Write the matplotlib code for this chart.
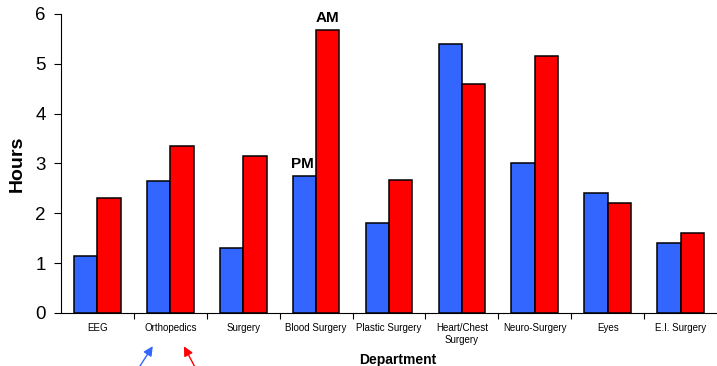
import matplotlib
matplotlib.use("Agg")
import matplotlib.pyplot as plt
import numpy as np

departments = ["EEG", "Orthopedics", "Surgery", "Blood Surgery", "Plastic Surgery",
               "Heart/Chest\nSurgery", "Neuro-Surgery", "Eyes", "E.I. Surgery"]
pm_hours = [1.15, 2.65, 1.30, 2.75, 1.80, 5.40, 3.00, 2.40, 1.40]
am_hours = [2.30, 3.35, 3.15, 5.68, 2.67, 4.60, 5.15, 2.20, 1.60]

plt.rcParams["font.family"] = ["Liberation Sans", "DejaVu Sans"]

BLUE = "#3366FF"
RED = "#FF0000"
width = 0.32

fig = plt.figure(figsize=(7.17, 3.66), dpi=100)
ax = fig.add_axes([0.085, 0.145, 0.915, 0.817])

x = np.arange(len(departments))
pm_bars = ax.bar(x - width / 2, pm_hours, width, color=BLUE, edgecolor="black", linewidth=1.1, zorder=3)
am_bars = ax.bar(x + width / 2, am_hours, width, color=RED, edgecolor="black", linewidth=1.1, zorder=3)

ax.set_xlim(-0.5, len(departments) - 0.5)
ax.set_ylim(0, 6)
ax.set_yticks(range(7))
ax.tick_params(axis="y", labelsize=13.5, length=5, width=0.8, pad=6)

# category boundaries get the tick marks, labels sit at the centres
ax.set_xticks(x[:-1] + 0.5)
ax.set_xticklabels([])
ax.tick_params(axis="x", which="major", length=4, width=0.8)
ax.set_xticks(x, minor=True)
ax.set_xticklabels(departments, minor=True, fontsize=7, linespacing=1.3, va="top")
ax.tick_params(axis="x", which="minor", length=0, pad=7)

for side in ("top", "right"):
    ax.spines[side].set_visible(False)
ax.spines["left"].set_linewidth(0.8)
ax.spines["bottom"].set_linewidth(0.8)

ax.set_ylabel("Hours", fontsize=14, fontweight="bold")
ax.yaxis.set_label_coords(-0.054, 0.5)
ax.set_xlabel("Department", fontsize=10, fontweight="bold")
ax.xaxis.set_label_coords(0.513, -0.135)

# series labels above the Blood Surgery pair
i = departments.index("Blood Surgery")
ax.text(pm_bars[i].get_x() + width / 2 - 0.03, pm_hours[i] + 0.1, "PM",
        fontsize=11, fontweight="bold", ha="center", va="bottom")
ax.text(am_bars[i].get_x() + width / 2, am_hours[i] + 0.1, "AM",
        fontsize=11, fontweight="bold", ha="center", va="bottom")

# pointers under Orthopedics
j = departments.index("Orthopedics")
ax.annotate("", xy=(j - 0.22, -0.62), xytext=(j - 0.44, -1.12),
            arrowprops=dict(arrowstyle="-|>", color=BLUE, lw=1.0, mutation_scale=14),
            annotation_clip=False)
ax.annotate("", xy=(j + 0.17, -0.62), xytext=(j + 0.35, -1.12),
            arrowprops=dict(arrowstyle="-|>", color=RED, lw=1.0, mutation_scale=14),
            annotation_clip=False)

fig.savefig("out.png", dpi=100)
